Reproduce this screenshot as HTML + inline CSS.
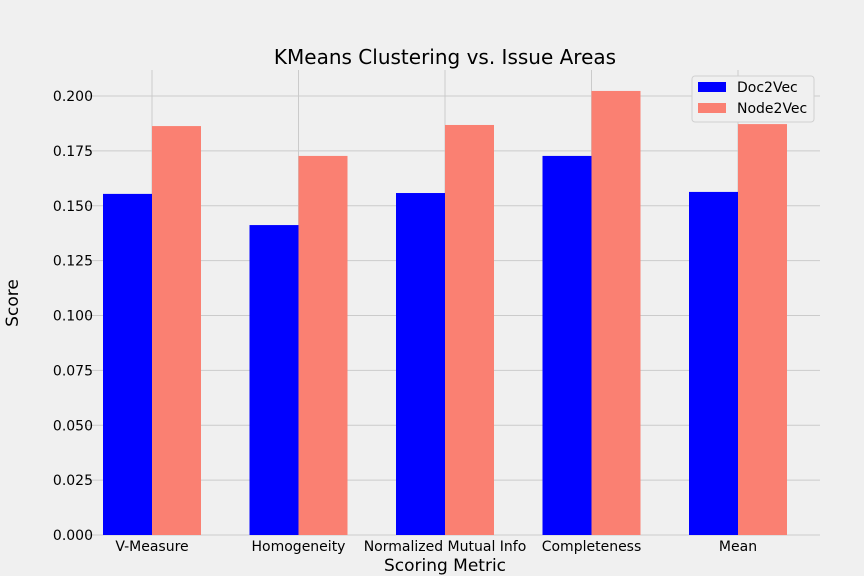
<!DOCTYPE html>
<html><head><meta charset="utf-8"><style>
body{margin:0;background:#f0f0f0;}
svg{display:block;font-family:"DejaVu Sans","Liberation Sans",sans-serif;}
</style></head><body>
<svg id="chart" width="864" height="576">
<rect width="864" height="576" fill="#f0f0f0"/>
<g id="grid"></g><g id="bars"></g><g id="axes"></g>
<text x="445" y="64" font-size="20" text-anchor="middle" fill="#000">KMeans Clustering vs. Issue Areas</text>
<text x="445" y="571" font-size="17" text-anchor="middle">Scoring Metric</text>
<text x="18" y="303" font-size="17" text-anchor="middle" transform="rotate(-90 18 303)">Score</text>
<g>
<rect x="692" y="76" width="122" height="46" fill="#f0f0f0" stroke="#d0d0d0" rx="3"/>
<rect x="698" y="82" width="28" height="10" fill="#0000ff"/>
<text x="737" y="92" font-size="14">Doc2Vec</text>
<rect x="698" y="103" width="28" height="10" fill="#fa8072"/>
<text x="737" y="113" font-size="14">Node2Vec</text>
</g>
</svg>
<script>
const categories=["V-Measure","Homogeneity","Normalized Mutual Info","Completeness","Mean"];
const doc2vec=[0.1554,0.1412,0.1558,0.1727,0.1563];
const node2vec=[0.1863,0.1727,0.1868,0.2023,0.1872];
const yTicks=[0,0.025,0.05,0.075,0.1,0.125,0.15,0.175,0.2];
const yTickLabels=["0.000","0.025","0.050","0.075","0.100","0.125","0.150","0.175","0.200"];
const NS="http://www.w3.org/2000/svg";
const L=85,R=820,T=70,B=535;
function y(v){return B-v*2195;}
function xc(i){return 152+i*146.5;}
const bw=49;
function mk(tag,attrs,parent,text){const e=document.createElementNS(NS,tag);for(const k in attrs)e.setAttribute(k,attrs[k]);if(text!==undefined)e.textContent=text;document.getElementById(parent).appendChild(e);return e;}
yTicks.forEach((t,i)=>{
 const l=mk("line",{x1:L,x2:R,y1:y(t),y2:y(t),stroke:"#cbcbcb","stroke-width":1},"grid");
 
 
 const tx=mk("text",{x:L+8,y:y(t)+5,"font-size":14,"text-anchor":"end"},"axes",yTickLabels[i]);
 
 
});
categories.forEach((c,i)=>{
 const l=mk("line",{x1:xc(i),x2:xc(i),y1:T,y2:B,stroke:"#cbcbcb","stroke-width":1},"grid");
 
 
 const a=mk("rect",{x:xc(i)-bw,y:y(doc2vec[i]),width:bw,height:B-y(doc2vec[i]),fill:"#0000ff"},"bars");
 
 
 const b=mk("rect",{x:xc(i),y:y(node2vec[i]),width:bw,height:B-y(node2vec[i]),fill:"#fa8072"},"bars");
 
 
 const tx=mk("text",{x:xc(i),y:551,"font-size":14,"text-anchor":"middle"},"axes",c);
 
 
});
</script>
</body></html>
